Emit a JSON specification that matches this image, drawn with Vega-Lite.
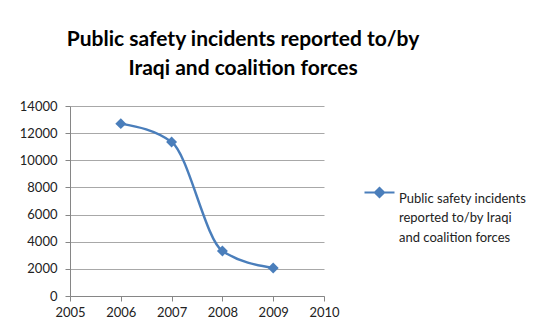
{
  "$schema": "https://vega.github.io/schema/vega-lite/v6.json",
  "autosize": {"type": "none"},
  "width": 254,
  "height": 190,
  "padding": {"left": 70, "top": 106, "right": 213, "bottom": 30},
  "background": "white",
  "title": {
    "text": ["Public safety incidents reported to/by", "Iraqi and coalition forces"],
    "anchor": "middle",
    "frame": "group",
    "dx": 46,
    "offset": 21,
    "font": "Lato",
    "fontSize": 21,
    "fontWeight": "bold",
    "lineHeight": 29,
    "color": "#000000"
  },
  "config": {
    "view": {"stroke": null},
    "style": {"guide-label": {"lineHeight": 19.5}},
    "axis": {"labelFont": "Lato", "labelFontSize": 13, "labelColor": "#222222", "domainColor": "#868686", "tickColor": "#868686", "gridColor": "#A8A8A8", "tickSize": 5, "title": null, "labelFlush": false, "labelOverlap": false}
  },
  "data": {
    "values": [
      {"year": 2006, "incidents": 12700, "series": "Public safety incidents reported to/by Iraqi and coalition forces"},
      {"year": 2007, "incidents": 11350, "series": "Public safety incidents reported to/by Iraqi and coalition forces"},
      {"year": 2008, "incidents": 3320, "series": "Public safety incidents reported to/by Iraqi and coalition forces"},
      {"year": 2009, "incidents": 2070, "series": "Public safety incidents reported to/by Iraqi and coalition forces"}
    ]
  },
  "encoding": {
    "x": {"field": "year", "type": "quantitative", "scale": {"domain": [2005, 2010], "nice": false, "zero": false},
      "axis": {"values": [2005, 2006, 2007, 2008, 2009, 2010], "format": "d", "grid": false, "labelPadding": 5}},
    "y": {"field": "incidents", "type": "quantitative", "scale": {"domain": [0, 14000], "nice": false},
      "axis": {"values": [0, 2000, 4000, 6000, 8000, 10000, 12000, 14000], "format": "d", "grid": true, "labelPadding": 8, "domain": true}},
    "color": {"field": "series", "type": "nominal", "scale": {"range": ["#4A7EBB"]},
      "legend": {
        "orient": "none", "legendX": 293, "legendY": 70, "title": null, "padding": 0,
        "symbolType": "M-1,0H1M-0.3,0L0,-0.3L0.3,0L0,0.3Z",
        "symbolSize": 900, "symbolStrokeWidth": 2.2, "symbolFillColor": "#4A7EBB", "symbolStrokeColor": "#4A7EBB",
        "labelFont": "Lato", "labelFontSize": 13, "labelColor": "#222222", "labelLimit": 300, "labelOffset": 3,
        "labelBaseline": "top",
        "labelExpr": "['Public safety incidents', 'reported to/by Iraqi', 'and coalition forces']"
      }}
  },
  "layer": [
    {"mark": {"type": "line", "interpolate": "monotone", "strokeWidth": 2.5}},
    {"mark": {"type": "point", "shape": "diamond", "filled": true, "size": 120, "opacity": 1}}
  ]
}
